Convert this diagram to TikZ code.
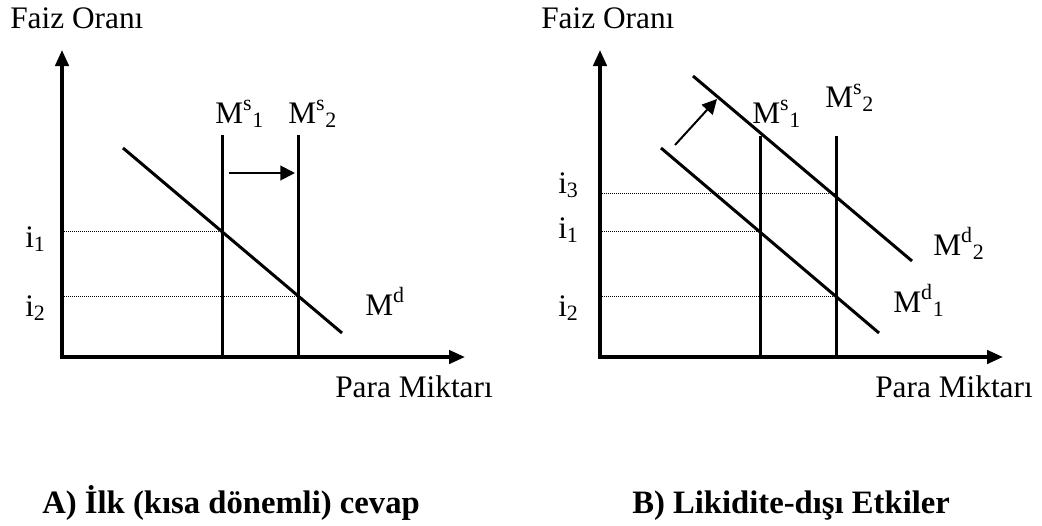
\documentclass[tikz,border=0pt]{standalone}
\usepackage{fontspec}
\setmainfont{Liberation Serif}
\usetikzlibrary{arrows.meta}
\begin{document}
\begin{tikzpicture}[x=0.75pt, y=-0.75pt, font=\fontsize{23.5pt}{28pt}\selectfont,
  lbl/.style={inner sep=0pt, anchor=base west},
  axis/.style={line width=2.6pt, {Triangle[length=12pt,width=10pt]}-{Triangle[length=12pt,width=10pt]}},
  curve/.style={line width=2.25pt},
  level/.style={line width=0.75pt, dash pattern=on 0.75pt off 0.75pt},
  shiftarrow/.style={line width=1.5pt, -{Triangle[length=11pt,width=11pt]}},
  title/.style={inner sep=0pt, anchor=base west, font=\fontsize{24.5pt}{29pt}\selectfont\bfseries}]
  \useasboundingbox (0,0) rectangle (1042,525);
  % A) ilk cevap
  \coordinate (ytipA) at (62,50);
  \coordinate (xtipA) at (465,357);
  \coordinate (s1topA) at (222,135); \coordinate (s1botA) at (222,357);
  \coordinate (s2topA) at (298,135); \coordinate (s2botA) at (298,357);
  \coordinate (dtopA) at (123,148); \coordinate (dbotA) at (342,333);
  \coordinate (e1A) at (222,231); \coordinate (e2A) at (298,296);
  \coordinate (l1A) at (64,231); \coordinate (l2A) at (64,296);
  \coordinate (arrAs) at (229,173); \coordinate (arrAe) at (295,173);
  \draw[axis] (ytipA) |- (xtipA);
  \draw[level] (l1A) -- (e1A);
  \draw[level] (l2A) -- (e2A);
  \draw[curve] (s1topA) -- (s1botA);
  \draw[curve] (s2topA) -- (s2botA);
  \draw[curve] (dtopA) -- (dbotA);
  \draw[shiftarrow] (arrAs) -- (arrAe);
  \node[lbl] (faizA) at (10,28) {Faiz Oranı};
  \node[lbl] (paraA) at (335,397) {Para Miktarı};
  \node[lbl] (ms1A) at (215,123) {M\textsuperscript{s}\textsubscript{1}};
  \node[lbl] (ms2A) at (288,123) {M\textsuperscript{s}\textsubscript{2}};
  \node[lbl] (mdA) at (365,315) {M\textsuperscript{d}};
  \node[lbl] (i1A) at (25,247) {i\textsubscript{1}};
  \node[lbl] (i2A) at (25,316) {i\textsubscript{2}};
  \node[title] (titleA) at (42,513) {A) İlk (kısa dönemli) cevap};
  % B) likidite-disi etkiler
  \begin{scope}[xshift=403.5pt]
    \coordinate (ytipB) at (62,50);
    \coordinate (xtipB) at (465,357);
    \coordinate (s1topB) at (222,136); \coordinate (s1botB) at (222,357);
    \coordinate (s2topB) at (298,136); \coordinate (s2botB) at (298,357);
    \coordinate (d1topB) at (123,148); \coordinate (d1botB) at (341,333);
    \coordinate (d2topB) at (155,76); \coordinate (d2botB) at (374,261);
    \coordinate (e1B) at (222,231); \coordinate (e2B) at (298,296); \coordinate (e3B) at (298,193);
    \coordinate (l1B) at (64,231); \coordinate (l2B) at (64,296); \coordinate (l3B) at (64,193);
    \coordinate (arrBs) at (137,145); \coordinate (arrBe) at (179,99);
    \draw[axis] (ytipB) |- (xtipB);
    \draw[level] (l3B) -- (e3B);
    \draw[level] (l1B) -- (e1B);
    \draw[level] (l2B) -- (e2B);
    \draw[curve] (s1topB) -- (s1botB);
    \draw[curve] (s2topB) -- (s2botB);
    \draw[curve] (d1topB) -- (d1botB);
    \draw[curve] (d2topB) -- (d2botB);
    \draw[shiftarrow] (arrBs) -- (arrBe);
    \node[lbl] (faizB) at (3,28) {Faiz Oranı};
    \node[lbl] (paraB) at (337,397) {Para Miktarı};
    \node[lbl] (ms1B) at (214,123) {M\textsuperscript{s}\textsubscript{1}};
    \node[lbl] (ms2B) at (287,107) {M\textsuperscript{s}\textsubscript{2}};
    \node[lbl] (md2B) at (395,255) {M\textsuperscript{d}\textsubscript{2}};
    \node[lbl] (md1B) at (355,312) {M\textsuperscript{d}\textsubscript{1}};
    \node[lbl] (i3B) at (20,193) {i\textsubscript{3}};
    \node[lbl] (i1B) at (20,238) {i\textsubscript{1}};
    \node[lbl] (i2B) at (20,316) {i\textsubscript{2}};
    \node[title] (titleB) at (94,513) {B) Likidite-dışı Etkiler};
  \end{scope}
\end{tikzpicture}
\end{document}
